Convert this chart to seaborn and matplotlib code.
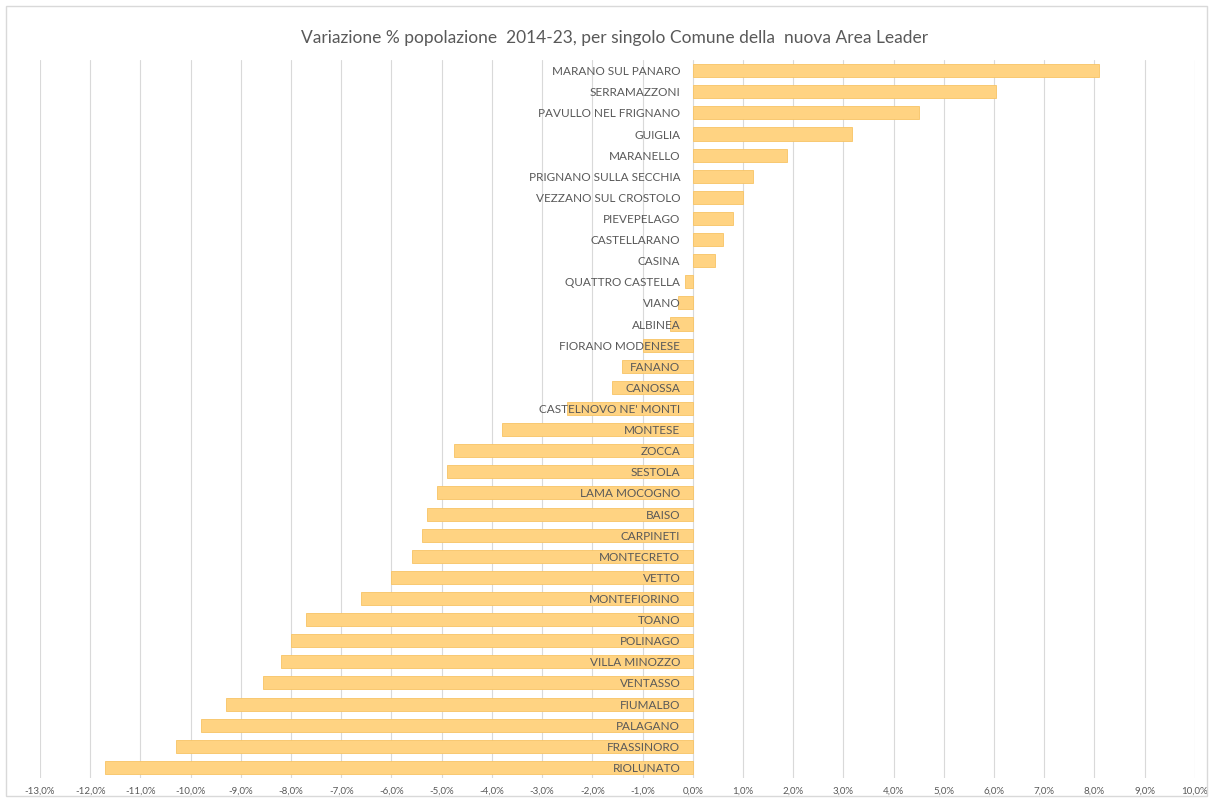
import matplotlib
matplotlib.use("Agg")
import matplotlib.pyplot as plt
import matplotlib.ticker as mticker
from matplotlib.patches import Rectangle
import pandas as pd
import seaborn as sns

comuni = [
    "MARANO SUL PANARO", "SERRAMAZZONI", "PAVULLO NEL FRIGNANO", "GUIGLIA",
    "MARANELLO", "PRIGNANO SULLA SECCHIA", "VEZZANO SUL CROSTOLO", "PIEVEPELAGO",
    "CASTELLARANO", "CASINA", "QUATTRO CASTELLA", "VIANO", "ALBINEA",
    "FIORANO MODENESE", "FANANO", "CANOSSA", "CASTELNOVO NE' MONTI", "MONTESE",
    "ZOCCA", "SESTOLA", "LAMA MOCOGNO", "BAISO", "CARPINETI", "MONTECRETO",
    "VETTO", "MONTEFIORINO", "TOANO", "POLINAGO", "VILLA MINOZZO", "VENTASSO",
    "FIUMALBO", "PALAGANO", "FRASSINORO", "RIOLUNATO",
]
variazione = [
    8.1, 6.05, 4.5, 3.17, 1.87, 1.2, 1.0, 0.8, 0.6, 0.45, -0.15, -0.3, -0.45,
    -1.0, -1.4, -1.6, -2.5, -3.8, -4.75, -4.9, -5.1, -5.3, -5.4, -5.6,
    -6.0, -6.6, -7.7, -8.0, -8.2, -8.55, -9.3, -9.8, -10.3, -11.7,
]
titolo = "Variazione % popolazione  2014-23, per singolo Comune della  nuova Area Leader"

df = pd.DataFrame({"comune": comuni, "var": variazione})

sns.set_theme(style="white")
plt.rcParams["font.family"] = ["Lato", "DejaVu Sans"]

fig, ax = plt.subplots(figsize=(12.13, 8.02), dpi=100)
fig.subplots_adjust(left=0.033, right=0.985, top=0.925, bottom=0.030)

sns.barplot(data=df, y="comune", x="var", orient="h", color="#FFD382",
            saturation=1, width=0.62, edgecolor="#F7C465", linewidth=0.6, ax=ax)

ax.set_xlim(-13, 10)
ax.set_xticks(range(-13, 11))
ax.xaxis.set_major_formatter(mticker.FuncFormatter(
    lambda v, p: f"{v:.1f}%".replace(".", ",")))
ax.grid(axis="x", color="#D9D9D9", linewidth=0.8)
ax.set_axisbelow(True)
ax.yaxis.set_zorder(5)
ax.set_xlabel("")
ax.set_ylabel("")
ax.set_ylim(len(comuni) - 0.5, -0.5)

for s in ["top", "right", "bottom"]:
    ax.spines[s].set_visible(False)
ax.spines["left"].set_position(("data", 0))
ax.spines["left"].set_visible(False)

ax.tick_params(axis="x", colors="#595959", labelsize=7, length=0, pad=6)
ax.tick_params(axis="y", colors="#595959", labelsize=8.5, length=0, pad=9)

fig.suptitle(titolo, x=0.507, y=0.963, fontsize=12.5, color="#595959")

fig.patches.append(Rectangle((0.005, 0.008), 0.99, 0.984, transform=fig.transFigure,
                             fill=False, edgecolor="#D9D9D9", linewidth=1))

fig.savefig("out.png", dpi=100)
